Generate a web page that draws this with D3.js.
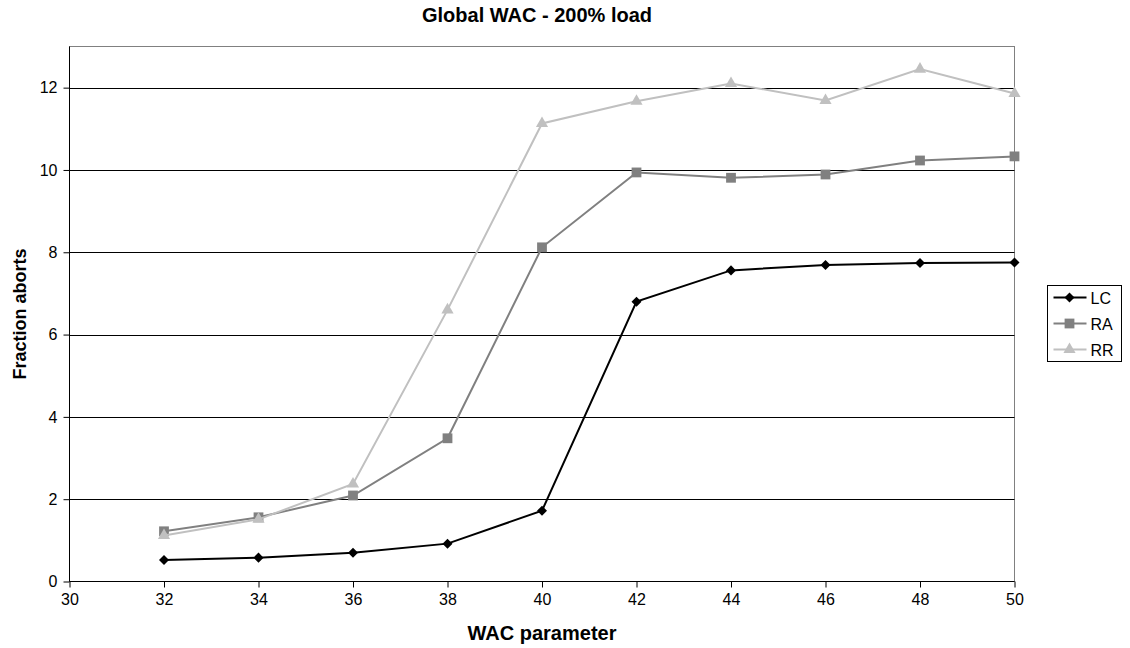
<!DOCTYPE html>
<html>
<head>
<meta charset="utf-8">
<script src="https://cdn.jsdelivr.net/npm/d3@7"></script>
<style>
  html, body { margin: 0; padding: 0; background: #fff; }
  svg { display: block; font-family: "Liberation Sans", Arial, sans-serif; }
</style>
</head>
<body>
<svg id="chart" width="1130" height="648"></svg>
<script>
// WAC parameter values on the x axis
const wacParams = [32, 34, 36, 38, 40, 42, 44, 46, 48, 50];

// Fraction of aborts per policy
const lcValues = [0.52, 0.58, 0.70, 0.92, 1.72, 6.80, 7.56, 7.69, 7.74, 7.75];
const raValues = [1.22, 1.56, 2.09, 3.48, 8.12, 9.94, 9.81, 9.89, 10.23, 10.33];
const rrValues = [1.12, 1.51, 2.37, 6.60, 11.13, 11.67, 12.10, 11.69, 12.45, 11.86];

const seriesNames = ["LC", "RA", "RR"];
const xTicks = [30, 32, 34, 36, 38, 40, 42, 44, 46, 48, 50];
const yTicks = [0, 2, 4, 6, 8, 10, 12];

const series = [
  { name: seriesNames[0], values: lcValues, color: "#000000", marker: "diamond" },
  { name: seriesNames[1], values: raValues, color: "#808080", marker: "square" },
  { name: seriesNames[2], values: rrValues, color: "#c0c0c0", marker: "triangle" }
];

const FONT = "'Liberation Sans', Arial, sans-serif";
const svg = d3.select("#chart");
const plot = { left: 69.5, right: 1014.5, top: 46.5, bottom: 581.5 };

const x = d3.scaleLinear().domain([30, 50]).range([plot.left, plot.right]);
const y = d3.scaleLinear().domain([0, 13]).range([plot.bottom, plot.top]);

// Plot area frame
svg.append("rect")
  .attr("x", plot.left).attr("y", plot.top)
  .attr("width", plot.right - plot.left).attr("height", plot.bottom - plot.top)
  .attr("fill", "#fff").attr("stroke", "#808080").attr("stroke-width", 1);

// Horizontal gridlines
svg.append("g").selectAll("line")
  .data(yTicks.filter(d => d > 0))
  .join("line")
  .attr("x1", plot.left).attr("x2", plot.right)
  .attr("y1", d => Math.round(y(d)) + 0.5).attr("y2", d => Math.round(y(d)) + 0.5)
  .attr("stroke", "#000").attr("stroke-width", 1);

// Y axis
const yAxis = svg.append("g")
  .attr("transform", `translate(${plot.left},0)`)
  .call(d3.axisLeft(y).tickValues(yTicks).tickSize(6).tickPadding(6).tickFormat(d3.format("d")));
yAxis.selectAll("line").attr("stroke", "#000");
yAxis.select(".domain").attr("stroke", "#000").attr("d", `M0,${plot.bottom}V${plot.top}`);
yAxis.selectAll("text").attr("font-size", 16).attr("fill", "#000").attr("font-family", FONT);

// X axis
const xAxis = svg.append("g")
  .attr("transform", `translate(0,${plot.bottom})`)
  .call(d3.axisBottom(x).tickValues(xTicks).tickSize(6).tickPadding(6).tickFormat(d3.format("d")));
xAxis.selectAll("line").attr("stroke", "#000");
xAxis.select(".domain").attr("stroke", "#000").attr("d", `M${plot.left},0H${plot.right}`);
xAxis.selectAll("text").attr("font-size", 16).attr("fill", "#000").attr("font-family", FONT);

// Marker shapes
const markerPath = {
  diamond: d3.symbol().type(d3.symbolDiamond2).size(64)(),
  square: d3.symbol().type(d3.symbolSquare).size(96)(),
  triangle: d3.symbol().type(d3.symbolTriangle).size(64)()
};

const line = d3.line().x((d, i) => x(wacParams[i])).y(d => y(d));

series.forEach(s => {
  const g = svg.append("g");
  g.append("path")
    .attr("d", line(s.values))
    .attr("fill", "none").attr("stroke", s.color).attr("stroke-width", 2);
  g.selectAll("path.m")
    .data(s.values)
    .join("path")
    .attr("class", "m")
    .attr("d", markerPath[s.marker])
    .attr("transform", (d, i) => `translate(${x(wacParams[i])},${y(d)})`)
    .attr("fill", s.color);
});

// Title
svg.append("text")
  .attr("x", 537).attr("y", 22)
  .attr("text-anchor", "middle")
  .attr("font-size", 20).attr("font-weight", "bold")
  .text("Global WAC - 200% load");

// Axis titles
svg.append("text")
  .attr("x", 542).attr("y", 640)
  .attr("text-anchor", "middle")
  .attr("font-size", 20).attr("font-weight", "bold")
  .text("WAC parameter");

svg.append("text")
  .attr("transform", `translate(26,${(plot.top + plot.bottom) / 2}) rotate(-90)`)
  .attr("text-anchor", "middle")
  .attr("font-size", 18).attr("font-weight", "bold")
  .text("Fraction aborts");

// Legend
const legend = svg.append("g").attr("transform", "translate(1047.5,285.5)");
legend.append("rect")
  .attr("width", 74).attr("height", 76)
  .attr("fill", "#fff").attr("stroke", "#000").attr("stroke-width", 1);
series.forEach((s, i) => {
  const cy = 12 + i * 26;
  legend.append("line")
    .attr("x1", 6).attr("x2", 39).attr("y1", cy).attr("y2", cy)
    .attr("stroke", s.color).attr("stroke-width", 2);
  legend.append("path")
    .attr("d", markerPath[s.marker])
    .attr("transform", `translate(22,${cy})`)
    .attr("fill", s.color);
  legend.append("text")
    .attr("x", 43).attr("y", cy + 6)
    .attr("font-size", 16)
    .text(s.name);
});
</script>
</body>
</html>
